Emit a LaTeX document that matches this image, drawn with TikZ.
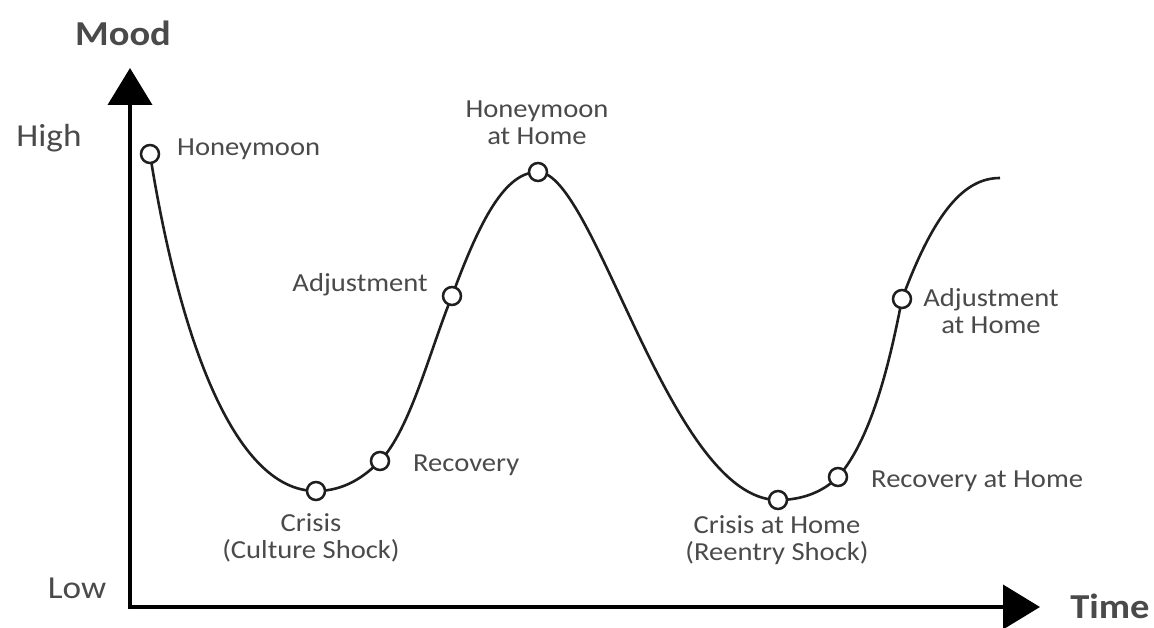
\documentclass[tikz,border=0pt]{standalone}
\usepackage{fontspec}
\setmainfont{Carlito}[FakeStretch=1.1]
\usetikzlibrary{arrows.meta}
\definecolor{labelgray}{HTML}{4A4A4A}
\definecolor{curvecol}{HTML}{1E1E1E}
\tikzset{
  axis/.style={line width=4pt, black, -{Triangle[length=37pt,width=44pt]}},
  moodcurve/.style={line width=2.6pt, curvecol},
  stage/.style={circle, draw=curvecol, line width=2.5pt, fill=white, minimum size=18pt, inner sep=0pt},
  lbl/.style={text=labelgray, font=\fontsize{26}{27}\selectfont, inner sep=0pt, align=center},
  axtitle/.style={text=labelgray, font=\bfseries\fontsize{35}{36}\selectfont, inner sep=0pt},
  axlevel/.style={text=labelgray, font=\fontsize{32}{34}\selectfont, inner sep=0pt}
}
\begin{document}
\begin{tikzpicture}[x=1pt, y=-1pt]
\useasboundingbox (0,0) rectangle (1154,628);

% axes
\coordinate (origin) at (130,607);
\coordinate (ytop) at (130,68);
\coordinate (xend) at (1040,607);
\draw[axis] (130,609) -- (ytop);
\draw[axis] (128,607) -- (xend);

\node[axtitle] (mood) at (123,33) {Mood};
\node[axtitle] (time) at (1110,606) {Time};
\node[axlevel] (high) at (49,138) {High};
\node[axlevel] (low) at (77,588) {Low};

% stages along the curve
\coordinate (c1) at (150,154);
\coordinate (c2) at (316,491);
\coordinate (c3) at (380,461);
\coordinate (c4) at (452,296);
\coordinate (c5) at (538,172);
\coordinate (c6) at (778,500);
\coordinate (c7) at (838,477);
\coordinate (c8) at (902,299);
\coordinate (cend) at (1000,178);

\draw[moodcurve] (c1)
  .. controls (178,330) and (232,491) .. (c2)
  .. controls (345,491) and (365,476) .. (c3)
  .. controls (410,430) and (430,350) .. (c4)
  .. controls (480,220) and (505,172) .. (c5)
  .. controls (595,172) and (670,500) .. (c6)
  .. controls (805,500) and (825,490) .. (c7)
  .. controls (875,435) and (893,345) .. (c8)
  .. controls (935,210) and (965,178) .. (cend);

\node[stage] (honeymoon) at (c1) {};
\node[stage] (crisis) at (c2) {};
\node[stage] (recovery) at (c3) {};
\node[stage] (adjustment) at (c4) {};
\node[stage] (hmhome) at (c5) {};
\node[stage] (crisishome) at (c6) {};
\node[stage] (recoveryhome) at (c7) {};
\node[stage] (adjhome) at (c8) {};

% labels
\node[lbl, anchor=west] (l1) at (177,149) {Honeymoon};
\node[lbl] (l2) at (311,538) {Crisis\\(Culture Shock)};
\node[lbl, anchor=west] (l3) at (413,465) {Recovery};
\node[lbl, anchor=east] (l4) at (428,285) {Adjustment};
\node[lbl] (l5) at (537,123) {Honeymoon\\at Home};
\node[lbl] (l6) at (777,540) {Crisis at Home\\(Reentry Shock)};
\node[lbl, anchor=west] (l7) at (871,481) {Recovery at Home};
\node[lbl] (l8) at (991,311) {Adjustment\\at Home};
\end{tikzpicture}
\end{document}
